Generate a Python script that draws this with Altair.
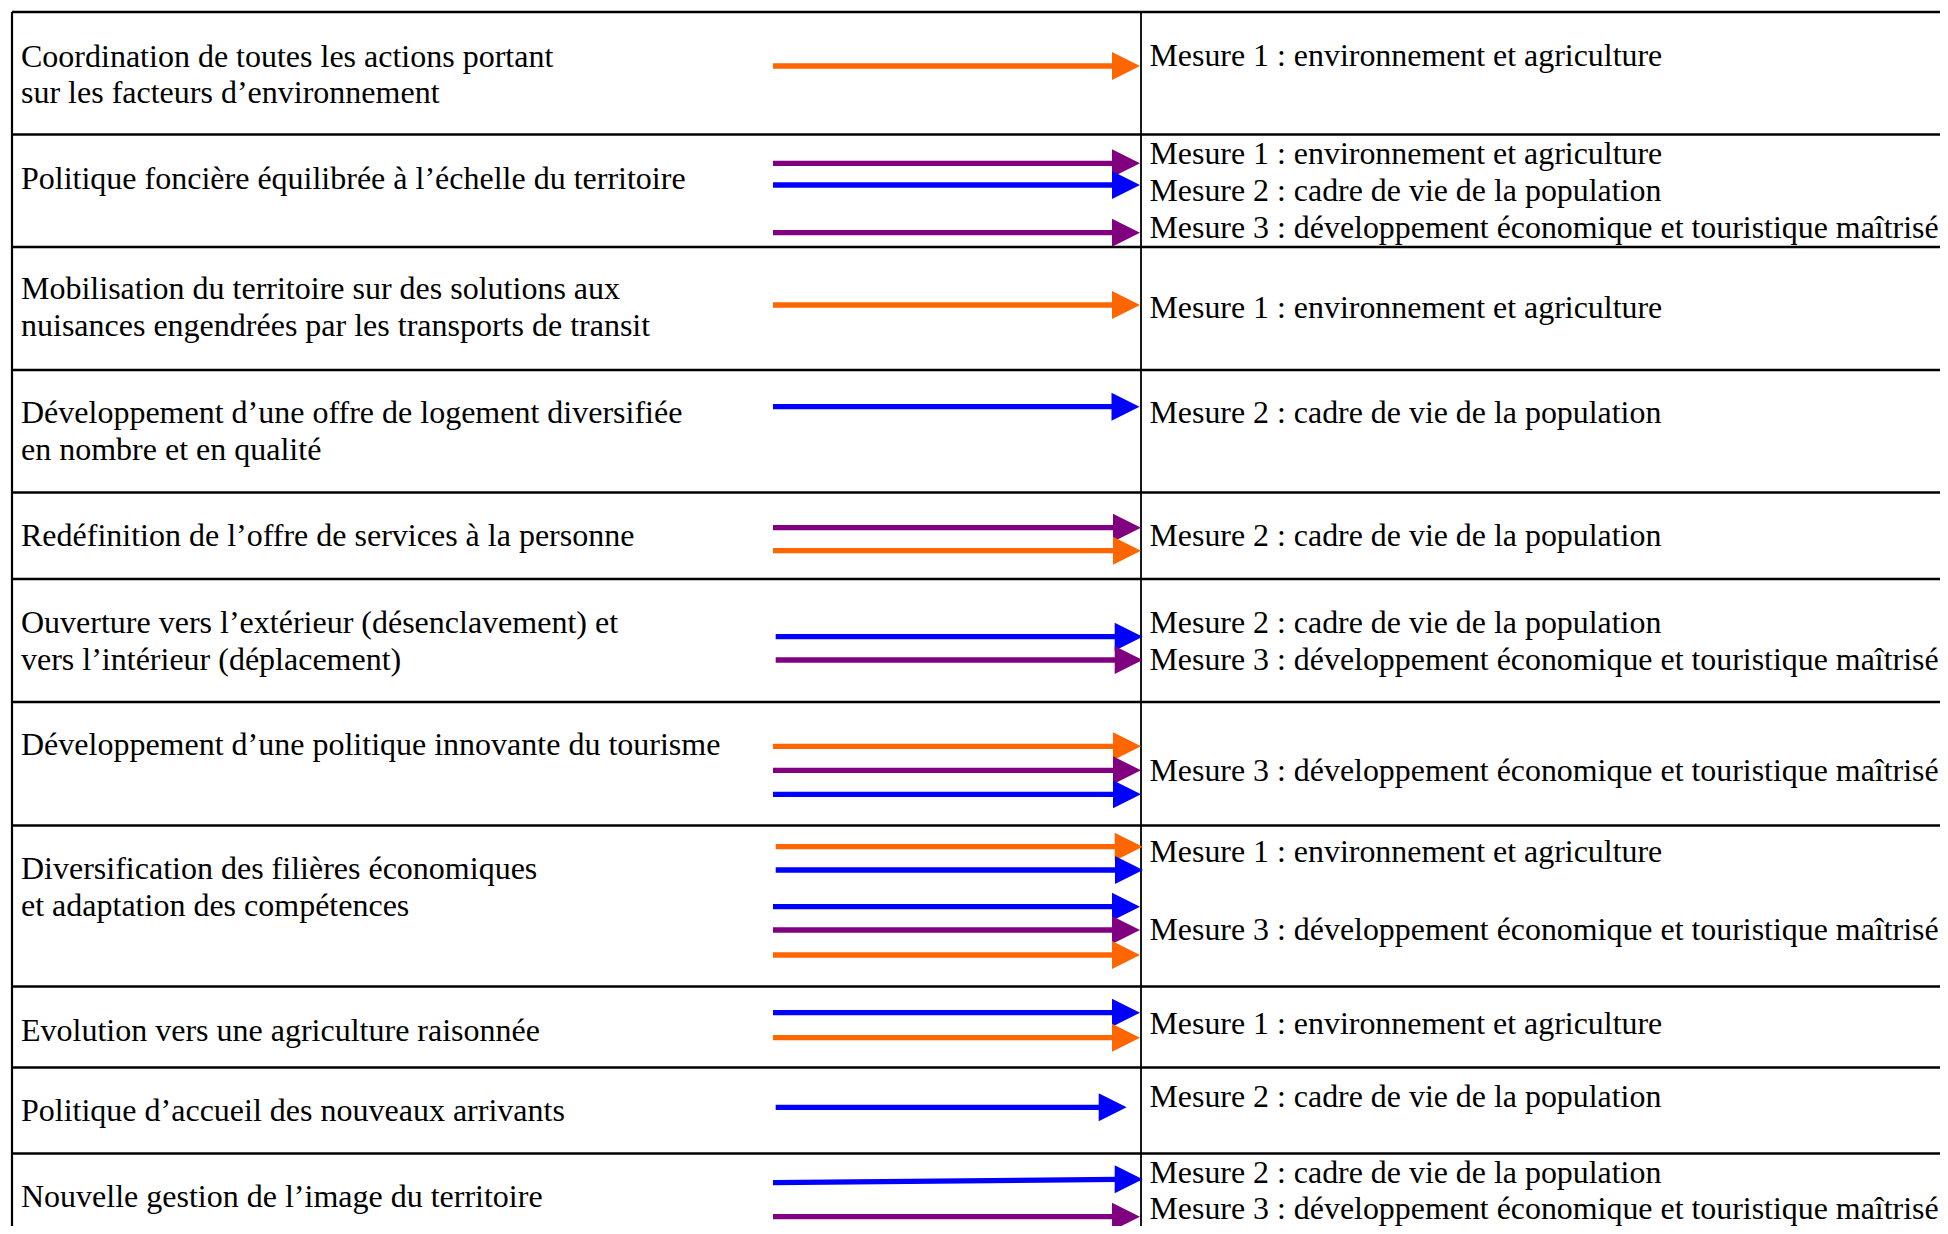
import altair as alt
import pandas as pd

# ---------------- content ----------------
left_labels = [
    ["Coordination de toutes les actions portant", "sur les facteurs d\u2019environnement"],
    ["Politique fonci\u00e8re \u00e9quilibr\u00e9e \u00e0 l\u2019\u00e9chelle du territoire"],
    ["Mobilisation du territoire sur des solutions aux", "nuisances engendr\u00e9es par les transports de transit"],
    ["D\u00e9veloppement d\u2019une offre de logement diversifi\u00e9e", "en nombre et en qualit\u00e9"],
    ["Red\u00e9finition de l\u2019offre de services \u00e0 la personne"],
    ["Ouverture vers l\u2019ext\u00e9rieur (d\u00e9senclavement) et", "vers l\u2019int\u00e9rieur (d\u00e9placement)"],
    ["D\u00e9veloppement d\u2019une politique innovante du tourisme"],
    ["Diversification des fili\u00e8res \u00e9conomiques", "et adaptation des comp\u00e9tences"],
    ["Evolution vers une agriculture raisonn\u00e9e"],
    ["Politique d\u2019accueil des nouveaux arrivants"],
    ["Nouvelle gestion de l\u2019image du territoire"],
]

measure_names = {
    1: "Mesure 1 : environnement et agriculture",
    2: "Mesure 2 : cadre de vie de la population",
    3: "Mesure 3 : d\u00e9veloppement \u00e9conomique et touristique ma\u00eetris\u00e9",
}
row_measures = [[1], [1, 2, 3], [1], [2], [2], [2, 3], [3], [1, 3], [1], [2], [2, 3]]

row_arrows = [
    ["orange"],
    ["purple", "blue", "purple"],
    ["orange"],
    ["blue"],
    ["purple", "orange"],
    ["blue", "purple"],
    ["orange", "purple", "blue"],
    ["orange", "blue", "blue", "purple", "orange"],
    ["blue", "orange"],
    ["blue"],
    ["blue", "purple"],
]

# ---------------- layout (pixel positions) ----------------
row_lines_y = [12, 134.5, 247, 370, 492.5, 579, 702, 825.5, 986.5, 1067.5, 1153.5]
left_text_y = [[66.5, 103], [188.5], [299, 335.5], [423, 460], [546], [633, 670],
               [755], [879, 916], [1040.5], [1120.5], [1207]]
measure_text_y = [[66], [164, 201, 237.5], [317.7], [422.7], [546], [633.3, 670],
                  [780.7], [861.7, 940], [1034], [1107.3], [1183.3, 1219.3]]
arrow_y = [[66], [163.3, 185, 232.7], [305], [406.7], [527.7, 550.7], [636.7, 660],
           [746.3, 770.3, 794.3], [846.7, 870, 906.7, 930, 955], [1012.7, 1037.7],
           [1107.3], [1182.7, 1216.7]]
arrow_y_end = [[66], [163.3, 185, 232.7], [305], [406.7], [527.7, 550.7], [636.7, 660],
               [746.3, 770.3, 794.3], [846.7, 870, 906.7, 930, 955], [1012.7, 1037.7],
               [1107.3], [1179.3, 1216.7]]
arrow_x0 = [[773], [773, 773, 773], [773], [773], [773, 773], [775.7, 775.7],
            [773, 773, 773], [775.7, 775.7, 773, 773, 773], [773, 773],
            [775.7], [773, 773]]
arrow_tip = [[1140], [1140, 1140, 1140], [1140], [1139.5], [1141, 1141], [1142.7, 1142.7],
             [1141, 1141, 1141], [1142.7, 1143, 1140, 1140, 1140], [1140, 1140],
             [1126.7], [1142.7, 1140]]

X_MIN, X_MAX = 8, 1940
Y_MIN, Y_MAX = 8, 1226
LEFT_X, DIV_X, RIGHT_X = 12, 1141, 1940
LEFT_TEXT_X, RIGHT_TEXT_X = 21, 1149.5
HEAD_LEN = 28

color_domain = ["orange", "purple", "blue"]
color_range = ["#FF6600", "#800080", "#0000FF"]

# ---------------- build tables ----------------
text_rows = []
for i, lines in enumerate(left_labels):
    for line, y in zip(lines, left_text_y[i]):
        text_rows.append({"x": LEFT_TEXT_X, "y": y, "label": line, "fs": 32})
for i, ms in enumerate(row_measures):
    for m, y in zip(ms, measure_text_y[i]):
        text_rows.append({"x": RIGHT_TEXT_X, "y": y, "label": measure_names[m], "fs": 31.9})
texts = pd.DataFrame(text_rows)

arrow_rows = []
for i, cols in enumerate(row_arrows):
    for j, c in enumerate(cols):
        tip = arrow_tip[i][j]
        arrow_rows.append({
            "x0": arrow_x0[i][j], "x1": tip - HEAD_LEN + 3,
            "y0": arrow_y[i][j], "y1": arrow_y_end[i][j],
            "hx": tip - HEAD_LEN / 2, "hy": arrow_y_end[i][j], "c": c,
        })
arrows = pd.DataFrame(arrow_rows)

hlines = pd.DataFrame({"y": row_lines_y, "x0": LEFT_X, "x1": RIGHT_X})
vlines = pd.DataFrame({"x": [LEFT_X, DIV_X], "y0": [row_lines_y[0]] * 2,
                       "y1": [Y_MAX, Y_MAX], "w": [2.2, 1.8]})

xs = alt.Scale(domain=[X_MIN, X_MAX], nice=False, zero=False)
ys = alt.Scale(domain=[Y_MIN, Y_MAX], nice=False, zero=False, reverse=True)
cs = alt.Scale(domain=color_domain, range=color_range)

h = alt.Chart(hlines).mark_rule(color="black", strokeWidth=2.4, clip=True).encode(
    x=alt.X("x0:Q", scale=xs, axis=None), x2="x1:Q",
    y=alt.Y("y:Q", scale=ys, axis=None))

v = alt.Chart(vlines).mark_rule(color="black", clip=True).encode(
    x=alt.X("x:Q", scale=xs, axis=None),
    y=alt.Y("y0:Q", scale=ys, axis=None), y2="y1:Q",
    strokeWidth=alt.StrokeWidth("w:Q", scale=None))

shafts = alt.Chart(arrows).mark_rule(strokeWidth=5.3, clip=True).encode(
    x=alt.X("x0:Q", scale=xs, axis=None), x2="x1:Q",
    y=alt.Y("y0:Q", scale=ys, axis=None), y2="y1:Q",
    color=alt.Color("c:N", scale=cs, legend=None))

heads = alt.Chart(arrows).mark_point(
    shape="M-1,-1L1,0L-1,1Z", filled=True, opacity=1, strokeWidth=0, size=784,
    clip=True
).encode(
    x=alt.X("hx:Q", scale=xs, axis=None),
    y=alt.Y("hy:Q", scale=ys, axis=None),
    color=alt.Color("c:N", scale=cs, legend=None))

txt = alt.Chart(texts).mark_text(
    align="left", baseline="alphabetic", font="Liberation Serif",
    color="black", clip=True
).encode(
    x=alt.X("x:Q", scale=xs, axis=None),
    y=alt.Y("y:Q", scale=ys, axis=None),
    size=alt.Size("fs:Q", scale=None),
    text="label:N")

chart = alt.layer(h, v, shafts, heads, txt).properties(
    width=X_MAX - X_MIN, height=Y_MAX - Y_MIN, padding=0,
    background="white"
).configure_view(stroke=None)

chart.save("out.html", embed_options={"renderer": "svg", "actions": False})
